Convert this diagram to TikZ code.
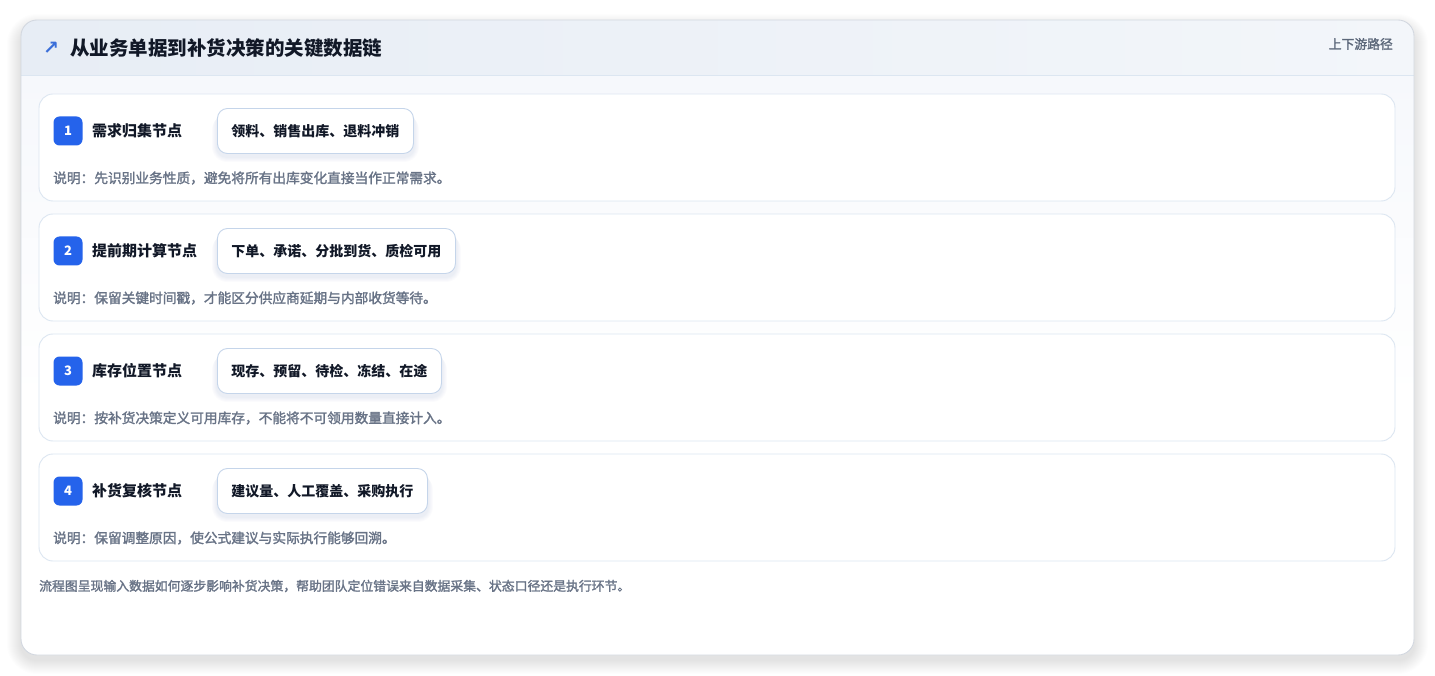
\documentclass[tikz,border=0pt]{standalone}
\usepackage{fontspec}
\setmainfont{Noto Sans CJK SC}
\newfontfamily\medfont{Noto Sans CJK SC}[FakeBold=1.8]
\newfontfamily\symfont{DejaVu Sans}
\definecolor{cardborder}{HTML}{DCE6F1}
\definecolor{outerborder}{HTML}{D3D8E0}
\definecolor{pillborder}{HTML}{C5D5EA}
\definecolor{badgeblue}{HTML}{2563EB}
\definecolor{titlecol}{HTML}{111827}
\definecolor{desccol}{HTML}{687386}
\definecolor{headL}{HTML}{E7EDF5}
\definecolor{headR}{HTML}{F3F6FA}
\definecolor{bodytop}{HTML}{F6F8FC}
\definecolor{arrowblue}{HTML}{3B6FD9}
\definecolor{metacol}{HTML}{5B6779}
\definecolor{pillshadow}{HTML}{5A7BB0}
\tikzset{
  card/.style={draw=cardborder, line width=0.9pt, fill=white, rounded corners=14pt, minimum width=1356pt, minimum height=107pt, inner sep=0pt},
  badge/.style={fill=badgeblue, rounded corners=6pt, minimum size=29pt, inner sep=0pt, text=white, font=\bfseries\fontsize{13}{13}\selectfont},
  lbl/.style={anchor=west, inner sep=0pt, text=titlecol, font=\bfseries\fontsize{15}{15}\selectfont},
  pill/.style={anchor=west, draw=pillborder, line width=0.9pt, fill=white, rounded corners=10pt, minimum height=45pt, inner xsep=14pt, inner ysep=0pt, text=titlecol, font=\bfseries\fontsize{14}{14}\selectfont},
  desc/.style={anchor=west, inner sep=0pt, text=desccol, font=\medfont\fontsize{13.7}{13.7}\selectfont},
}
\begin{document}
\begin{tikzpicture}[x=1pt,y=-1pt]
\useasboundingbox (0,0) rectangle (1435,676);
\fill[white] (0,0) rectangle (1435,676);
% outer card soft shadow
\foreach \k in {1,...,14}{
  \fill[black, opacity=0.008, rounded corners={16pt+\k pt}] (21-\k,20-\k+8) rectangle (1414+\k,655+\k+5);
}
\path[fill=white, rounded corners=16pt] (21,20) rectangle (1414,655);
\begin{scope}
  \clip[rounded corners=16pt] (21,20) rectangle (1414,655);
  \shade[top color=bodytop, bottom color=white] (21,75) rectangle (1414,400);
  \shade[left color=headL, right color=headR] (21,20) rectangle (1414,75);
\end{scope}
\draw[cardborder, line width=0.9pt] (21,75) -- (1414,75);
\draw[outerborder, line width=0.9pt, rounded corners=16pt] (21,20) rectangle (1414,655);
% header
\node[inner sep=0pt, text=arrowblue, font=\symfont\bfseries\fontsize{19}{19}\selectfont] (icon) at (51,48) {↗};
\node[anchor=west, inner sep=0pt, text=titlecol, font=\bfseries\fontsize{19.5}{19.5}\selectfont] (title) at (70,48.5) {从业务单据到补货决策的关键数据链};
\node[anchor=east, inner sep=0pt, text=metacol, font=\medfont\fontsize{12.8}{12.8}\selectfont] (meta) at (1393,44) {上下游路径};
% cards
\foreach \i/\lab/\pil/\des in {
  1/需求归集节点/领料、销售出库、退料冲销/说明：先识别业务性质，避免将所有出库变化直接当作正常需求。,
  2/提前期计算节点/下单、承诺、分批到货、质检可用/说明：保留关键时间戳，才能区分供应商延期与内部收货等待。,
  3/库存位置节点/现存、预留、待检、冻结、在途/说明：按补货决策定义可用库存，不能将不可领用数量直接计入。,
  4/补货复核节点/建议量、人工覆盖、采购执行/说明：保留调整原因，使公式建议与实际执行能够回溯。}{
  \pgfmathsetmacro\yy{(\i-1)*120}
  \node[card] (c\i) at (717,147.5+\yy) {};
  \node[badge] (b\i) at (68,131+\yy) {\i};
  \node[lbl] (l\i) at (92,131+\yy) {\lab};
  \node[pill, draw=none, fill=none, text opacity=0] (ps\i) at (217,131+\yy) {\pil};
  \foreach \k in {1,...,5}{
    \fill[pillshadow, opacity=0.022, rounded corners={10pt+\k pt}] ([xshift=-\k pt, yshift={-\k pt-2pt}]ps\i.north west) rectangle ([xshift=\k pt, yshift={-\k pt-3pt}]ps\i.south east);
  }
  \node[pill] (p\i) at (217,131+\yy) {\pil};
  \node[desc] (d\i) at (53,178+\yy) {\des};
}
\node[anchor=west, inner sep=0pt, text=desccol, font=\medfont\fontsize{12.85}{12.85}\selectfont] (foot) at (39,586) {流程图呈现输入数据如何逐步影响补货决策，帮助团队定位错误来自数据采集、状态口径还是执行环节。};
\end{tikzpicture}
\end{document}
